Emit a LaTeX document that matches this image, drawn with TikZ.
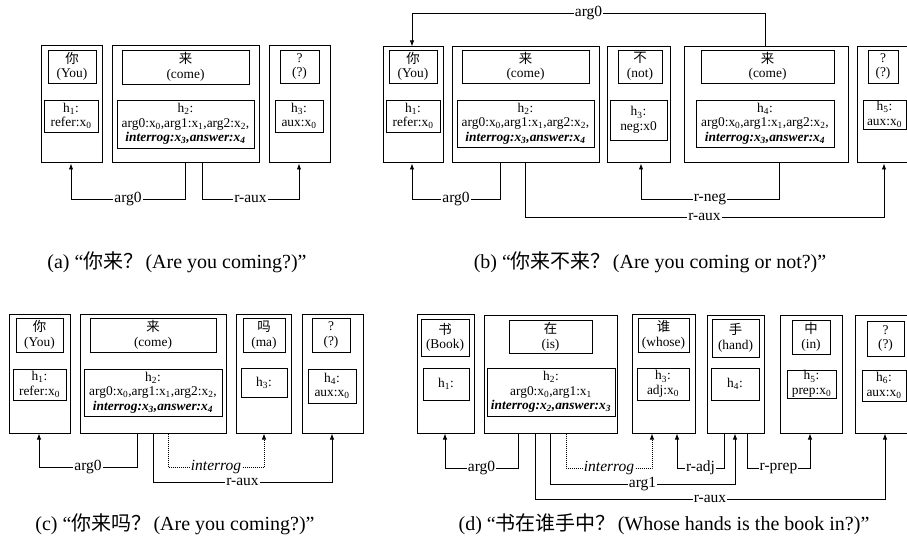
\documentclass[tikz,border=0pt]{standalone}
\usepackage{fontspec}
\setmainfont{Liberation Serif}
\newfontfamily\cjk{Noto Sans CJK SC}
\usetikzlibrary{arrows.meta}
\newcommand\bxfont{\fontsize{13.4}{14.6}\selectfont}
\newcommand\lbfont{\fontsize{15.5}{16}\selectfont}
\newcommand\cpfont{\fontsize{20}{22}\selectfont}
\newcommand\sbs[1]{\textsubscript{#1}}
\newcommand\bx[6]{\node[#1, minimum width={(#5-#3)*1pt}, minimum height={(#6-#4)*1pt}] (#2) at ({(#3+#5)/2},{(#4+#6)/2})}
\tikzset{
  outerbox/.style={draw, line width=1pt, inner sep=0pt},
  innerbox/.style={draw, line width=0.9pt, inner sep=0pt, align=center, font=\bxfont},
  conn/.style={line width=0.9pt, -{Latex[length=6pt,width=4.5pt]}},
  dotconn/.style={conn, dash pattern=on 1pt off 1pt},
  lab/.style={fill=white, inner sep=1pt, font=\lbfont},
  itlab/.style={lab, font=\lbfont\itshape},
  captext/.style={font=\cpfont, inner sep=0pt},
}
\begin{document}
\begin{tikzpicture}[x=1pt, y=-1pt]
\fill[white] (0,0) rectangle (907,540);
\useasboundingbox (0,0) rectangle (907,540);
% ---------- (a)
\bx{outerbox}{a1}{41}{46}{102}{163}{};
\bx{innerbox}{a1t}{48}{50}{96}{83}{{\cjk 你}\\(You)};
\bx{innerbox}{a1b}{44}{100}{98}{132}{h\sbs{1}:\\refer:x\sbs{0}};
\bx{outerbox}{a2}{112}{46}{259}{163}{};
\bx{innerbox}{a2t}{122}{50}{249}{84}{{\cjk 来}\\(come)};
\bx{innerbox}{a2b}{117}{100}{254}{148}{h\sbs{2}:\\arg0:x\sbs{0},arg1:x\sbs{1},arg2:x\sbs{2},\\\textbf{\textit{interrog:x\sbs{3},answer:x\sbs{4}}}};
\bx{outerbox}{a3}{269}{46}{330}{163}{};
\bx{innerbox}{a3t}{280}{50}{319}{83}{?\\(?)};
\bx{innerbox}{a3b}{275}{100}{323}{132}{h\sbs{3}:\\aux:x\sbs{0}};
\draw[conn] (a2.south -| 185,0) -- (185,199) -- node[lab]{arg0} (71,199) -- (a1.south -| 71,0);
\draw[conn] (a2.south -| 202,0) -- (202,199) -- node[lab]{r-aux} (299,199) -- (a3.south -| 299,0);
\node[captext] (capa) at (177,262) {(a) “{\cjk 你来？}\hspace{2pt}(Are you coming?)”};
% ---------- (b)
\bx{outerbox}{b1}{383}{47}{443}{163}{};
\bx{innerbox}{b1t}{389}{50}{437}{83}{{\cjk 你}\\(You)};
\bx{innerbox}{b1b}{386}{100}{440}{132}{h\sbs{1}:\\refer:x\sbs{0}};
\bx{outerbox}{b2}{452}{47}{599}{163}{};
\bx{innerbox}{b2t}{462}{50}{589}{83}{{\cjk 来}\\(come)};
\bx{innerbox}{b2b}{457}{100}{594}{147}{h\sbs{2}:\\arg0:x\sbs{0},arg1:x\sbs{1},arg2:x\sbs{2},\\\textbf{\textit{interrog:x\sbs{3},answer:x\sbs{4}}}};
\bx{outerbox}{b3}{607}{47}{670}{163}{};
\bx{innerbox}{b3t}{618}{50}{662}{83}{{\cjk 不}\\(not)};
\bx{innerbox}{b3b}{610}{100}{667}{140}{h\sbs{3}:\\neg:x0};
\bx{outerbox}{b4}{684}{47}{848}{163}{};
\bx{innerbox}{b4t}{701}{50}{834}{83}{{\cjk 来}\\(come)};
\bx{innerbox}{b4b}{696}{100}{834}{147}{h\sbs{4}:\\arg0:x\sbs{0},arg1:x\sbs{1},arg2:x\sbs{2},\\\textbf{\textit{interrog:x\sbs{3},answer:x\sbs{4}}}};
\bx{outerbox}{b5}{857}{47}{912}{163}{};
\bx{innerbox}{b5t}{868}{50}{898}{83}{?\\(?)};
\bx{innerbox}{b5b}{863}{100}{906}{129}{h\sbs{5}:\\aux:x\sbs{0}};
\draw[conn] (b4.north -| 765,0) -- (765,13) -- node[lab]{arg0} (412,13) -- (b1.north -| 412,0);
\draw[conn] (b2.south -| 500,0) -- (500,199) -- node[lab]{arg0} (412,199) -- (b1.south -| 412,0);
\draw[conn] (b4.south -| 779,0) -- (779,199) -- node[lab]{r-neg} (641,199) -- (b3.south -| 641,0);
\draw[conn] (b2.south -| 525,0) -- (525,217) -- node[lab]{r-aux} (884,217) -- (b5.south -| 884,0);
\node[captext] (capb) at (650,262) {(b) “{\cjk 你来不来？}\hspace{2pt}(Are you coming or not?)”};
% ---------- (c)
\bx{outerbox}{c1}{9}{314}{70}{433}{};
\bx{innerbox}{c1t}{16}{318}{63}{352}{{\cjk 你}\\(You)};
\bx{innerbox}{c1b}{13}{369}{66}{400}{h\sbs{1}:\\refer:x\sbs{0}};
\bx{outerbox}{c2}{80}{314}{226}{433}{};
\bx{innerbox}{c2t}{90}{318}{216}{352}{{\cjk 来}\\(come)};
\bx{innerbox}{c2b}{84}{369}{222}{416}{h\sbs{2}:\\arg0:x\sbs{0},arg1:x\sbs{1},arg2:x\sbs{2},\\\textbf{\textit{interrog:x\sbs{3},answer:x\sbs{4}}}};
\bx{outerbox}{c3}{236}{314}{291}{433}{};
\bx{innerbox}{c3t}{243}{318}{285}{352}{{\cjk 吗}\\(ma)};
\bx{innerbox}{c3b}{241}{368}{287}{397}{h\sbs{3}:};
\bx{outerbox}{c4}{302}{314}{363}{433}{};
\bx{innerbox}{c4t}{312}{318}{350}{352}{?\\(?)};
\bx{innerbox}{c4b}{308}{369}{356}{403}{h\sbs{4}:\\aux:x\sbs{0}};
\draw[conn] (c2.south -| 137,0) -- (137,467) -- node[lab]{arg0} (39,467) -- (c1.south -| 39,0);
\draw[conn] (c2.south -| 153,0) -- (153,482) -- node[lab]{r-aux} (332,482) -- (c4.south -| 332,0);
\draw[dotconn] (c2.south -| 168,0) -- (168,467) -- node[itlab]{interrog} (264,467) -- (c3.south -| 264,0);
\node[captext] (capc) at (175,524) {(c) “{\cjk 你来吗？}\hspace{2pt}(Are you coming?)”};
% ---------- (d)
\bx{outerbox}{d1}{417}{314}{474}{433}{};
\bx{innerbox}{d1t}{421}{319}{469}{356}{{\cjk 书}\\(Book)};
\bx{innerbox}{d1b}{423}{368}{469}{400}{h\sbs{1}:};
\bx{outerbox}{d2}{484}{315}{617}{433}{};
\bx{innerbox}{d2t}{509}{320}{592}{353}{{\cjk 在}\\(is)};
\bx{innerbox}{d2b}{487}{368}{615}{416}{h\sbs{2}:\\arg0:x\sbs{0},arg1:x\sbs{1}\\\textbf{\textit{interrog:x\sbs{2},answer:x\sbs{3}}}};
\bx{outerbox}{d3}{632}{314}{695}{433}{};
\bx{innerbox}{d3t}{638}{318}{689}{352}{{\cjk 谁}\\(whose)};
\bx{innerbox}{d3b}{637}{368}{689}{400}{h\sbs{3}:\\adj:x\sbs{0}};
\bx{outerbox}{d4}{707}{315}{764}{433}{};
\bx{innerbox}{d4t}{712}{319}{759}{357}{{\cjk 手}\\(hand)};
\bx{innerbox}{d4b}{711}{368}{759}{400}{h\sbs{4}:};
\bx{outerbox}{d5}{780}{315}{842}{433}{};
\bx{innerbox}{d5t}{792}{320}{830}{354}{{\cjk 中}\\(in)};
\bx{innerbox}{d5b}{787}{370}{836}{398}{h\sbs{5}:\\prep:x\sbs{0}};
\bx{outerbox}{d6}{855}{315}{912}{433}{};
\bx{innerbox}{d6t}{867}{321}{904}{356}{?\\(?)};
\bx{innerbox}{d6b}{862}{370}{906}{401}{h\sbs{6}:\\aux:x\sbs{0}};
\draw[conn] (d2.south -| 518,0) -- (518,468) -- node[lab]{arg0} (445,468) -- (d1.south -| 445,0);
\draw[dotconn] (d2.south -| 566,0) -- (566,468) -- node[itlab]{interrog} (652,468) -- (d3.south -| 652,0);
\draw[conn] (d4.south -| 724,0) -- (724,468) -- node[lab]{r-adj} (677,468) -- (d3.south -| 677,0);
\draw[conn] (d4.south -| 747,0) -- (747,468) -- node[lab]{r-prep} (810,468) -- (d5.south -| 810,0);
\draw[conn] (d2.south -| 550,0) -- (550,484) -- node[lab]{arg1} (735,484) -- (d4.south -| 735,0);
\draw[conn] (d2.south -| 535,0) -- (535,499) -- node[lab]{r-aux} (885,499) -- (d6.south -| 885,0);
\node[captext] (capd) at (664,524) {(d) “{\cjk 书在谁手中？}\hspace{2pt}(Whose hands is the book in?)”};
\end{tikzpicture}
\end{document}
